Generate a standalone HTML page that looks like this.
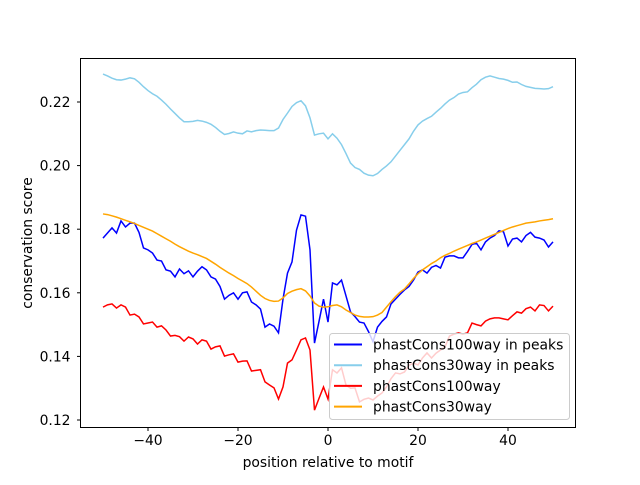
<!DOCTYPE html>
<html><head><meta charset="utf-8"><style>
html,body{margin:0;padding:0;background:#fff;}
svg text{font-family:"DejaVu Sans","Liberation Sans",sans-serif;font-size:13.9px;fill:#000;}
</style></head><body>
<svg id="chart" width="640" height="480" viewBox="0 0 640 480" xmlns="http://www.w3.org/2000/svg">
<rect width="640" height="480" fill="#fff"/>
<g id="plot"></g>
<rect x="80.5" y="58.5" width="495" height="369" fill="none" stroke="#000" stroke-width="1"/>
<g id="ticks"></g>
<text x="328" y="467" text-anchor="middle">position relative to motif</text>
<text transform="translate(32,243) rotate(-90)" text-anchor="middle">conservation score</text>
<g id="legend">
<rect x="329.5" y="333.5" width="240" height="86" rx="3" fill="rgba(255,255,255,0.8)" stroke="#ccc"/>
</g>
</svg>
<script>
const positions = [];
for (let i = -50; i <= 50; i++) positions.push(i);
const xTicks = [-40, -20, 0, 20, 40];
const yTicks = [0.12, 0.14, 0.16, 0.18, 0.20, 0.22];
const seriesNames = ["phastCons100way in peaks", "phastCons30way in peaks", "phastCons100way", "phastCons30way"];
const seriesColors = ["#0000ff", "#87ceeb", "#ff0000", "#ffa500"];
const cons100Peaks = [.1772,.1788,.1804,.1788,.1826,.1807,.1819,.1819,.1790,.1741,.1735,.1725,.1703,.1700,.1672,.1668,.1650,.1675,.1660,.1669,.1650,.1668,.1682,.1672,.1650,.1643,.1620,.1580,.1592,.1600,.1580,.1600,.1603,.1571,.1562,.1549,.1492,.1502,.1495,.1474,.1580,.1662,.1697,.1797,.1845,.1841,.1735,.1442,.1510,.1580,.1508,.1631,.1625,.1640,.1590,.1540,.1525,.1508,.1505,.1478,.1446,.1492,.1510,.1524,.1565,.1580,.1595,.1609,.1620,.1640,.1665,.1672,.1662,.1680,.1686,.1678,.1712,.1716,.1716,.1710,.1710,.1730,.1752,.1756,.1735,.1760,.1772,.1780,.1795,.1792,.1747,.1769,.1772,.1760,.1780,.1790,.1775,.1772,.1766,.1744,.1760];
const cons30Peaks = [.2288,.2282,.2275,.2270,.2269,.2272,.2276,.2273,.2262,.2248,.2236,.2226,.2218,.2206,.2193,.2178,.2164,.2150,.2138,.2138,.2139,.2142,.2140,.2136,.2130,.2120,.2108,.2098,.2101,.2106,.2102,.2100,.2109,.2106,.2110,.2112,.2111,.2110,.2110,.2118,.2145,.2165,.2186,.2198,.2204,.2188,.2150,.2096,.2100,.2102,.2084,.2100,.2086,.2066,.2038,.2008,.1994,.1988,.1976,.1970,.1968,.1975,.1988,.1999,.2012,.2030,.2048,.2066,.2084,.2108,.2128,.2140,.2148,.2155,.2168,.2180,.2194,.2206,.2214,.2225,.2230,.2232,.2245,.2256,.2270,.2278,.2282,.2278,.2274,.2272,.2268,.2262,.2263,.2255,.2249,.2246,.2243,.2242,.2241,.2242,.2248];
const cons100 = [.1555,.1562,.1565,.1552,.1562,.1555,.1530,.1533,.1524,.1502,.1505,.1508,.1492,.1496,.1483,.1464,.1466,.1462,.1448,.1461,.1455,.1439,.1452,.1448,.1423,.1430,.1433,.1401,.1405,.1408,.1382,.1385,.1386,.1354,.1356,.1358,.1320,.1310,.1301,.1266,.1304,.1379,.1389,.1420,.1452,.1458,.1420,.1231,.1268,.1304,.1266,.1358,.1348,.1364,.1310,.1300,.1301,.1257,.1265,.1269,.1263,.1275,.1285,.1304,.1330,.1348,.1345,.1351,.1372,.1379,.1373,.1395,.1411,.1395,.1410,.1420,.1430,.1464,.1470,.1474,.1470,.1474,.1505,.1500,.1496,.1511,.1518,.1521,.1521,.1518,.1515,.1528,.1540,.1536,.1550,.1555,.1543,.1562,.1560,.1543,.1558];
const cons30 = [.1848,.1846,.1842,.1838,.1833,.1828,.1823,.1818,.1812,.1806,.1800,.1794,.1786,.1778,.1770,.1762,.1753,.1745,.1738,.1731,.1725,.1720,.1714,.1708,.1699,.1690,.1680,.1671,.1662,.1654,.1645,.1637,.1629,.1618,.1605,.1592,.1582,.1576,.1573,.1574,.1584,.1598,.1605,.1610,.1613,.1606,.1590,.1568,.1558,.1555,.1556,.1560,.1562,.1556,.1546,.1538,.1530,.1526,.1524,.1524,.1525,.1530,.1538,.1555,.1572,.1588,.1602,.1612,.1628,.1645,.1660,.1672,.1682,.1692,.1700,.1710,.1718,.1724,.1731,.1737,.1743,.1749,.1755,.1760,.1766,.1772,.1778,.1784,.1790,.1796,.1802,.1807,.1811,.1815,.1819,.1821,.1823,.1826,.1828,.1830,.1833];

const NS = "http://www.w3.org/2000/svg";
const X0 = 80.5, X1 = 575.5, Y0 = 58.5, Y1 = 427.5;
const xMin = -55, xMax = 55;
function xScale(v){ return X0 + (v - xMin) / (xMax - xMin) * (X1 - X0); }
function yScale(v){ return 102 + (0.22 - v) * 3180; }

const plot = document.getElementById('plot');
const allSeries = [cons100Peaks, cons30Peaks, cons100, cons30];
const seriesKeys = ['phastcons100way-in-peaks-line','phastcons30way-in-peaks-line','phastcons100way-line','phastcons30way-line'];
allSeries.forEach((vals, si) => {
  const p = document.createElementNS(NS, 'path');
  let d = '';
  vals.forEach((v, i) => { d += (i ? 'L' : 'M') + xScale(positions[i]).toFixed(2) + ' ' + yScale(v).toFixed(2); });
  p.setAttribute('d', d);
  p.setAttribute('fill', 'none');
  p.setAttribute('stroke', seriesColors[si]);
  p.setAttribute('stroke-width', '1.5');
  
  
  plot.appendChild(p);
});

const ticks = document.getElementById('ticks');
xTicks.forEach(t => {
  const x = xScale(t);
  const l = document.createElementNS(NS, 'line');
  l.setAttribute('x1', x); l.setAttribute('x2', x); l.setAttribute('y1', Y1); l.setAttribute('y2', Y1 + 3.5);
  l.setAttribute('stroke', '#000');
  
  
  ticks.appendChild(l);
  const tx = document.createElementNS(NS, 'text');
  tx.setAttribute('x', x); tx.setAttribute('y', 445); tx.setAttribute('text-anchor', 'middle');
  tx.textContent = t < 0 ? '\u2212' + Math.abs(t) : String(t);
  
  
  ticks.appendChild(tx);
});
yTicks.forEach(t => {
  const y = yScale(t);
  const l = document.createElementNS(NS, 'line');
  l.setAttribute('x1', X0 - 3.5); l.setAttribute('x2', X0); l.setAttribute('y1', y); l.setAttribute('y2', y);
  l.setAttribute('stroke', '#000');
  
  
  ticks.appendChild(l);
  const tx = document.createElementNS(NS, 'text');
  tx.setAttribute('x', X0 - 10); tx.setAttribute('y', y + 5); tx.setAttribute('text-anchor', 'end');
  tx.textContent = t.toFixed(2);
  
  
  ticks.appendChild(tx);
});

const legend = document.getElementById('legend');
seriesNames.forEach((name, i) => {
  const y = 344.5 + i * 20.7;
  const g = document.createElementNS(NS, 'g');
  
  
  const l = document.createElementNS(NS, 'line');
  l.setAttribute('x1', 334); l.setAttribute('x2', 362); l.setAttribute('y1', y); l.setAttribute('y2', y);
  l.setAttribute('stroke', seriesColors[i]); l.setAttribute('stroke-width', '2');
  g.appendChild(l);
  const tx = document.createElementNS(NS, 'text');
  tx.setAttribute('x', 373); tx.setAttribute('y', y + 5);
  tx.textContent = name;
  g.appendChild(tx);
  legend.appendChild(g);
});
</script>
</body></html>
